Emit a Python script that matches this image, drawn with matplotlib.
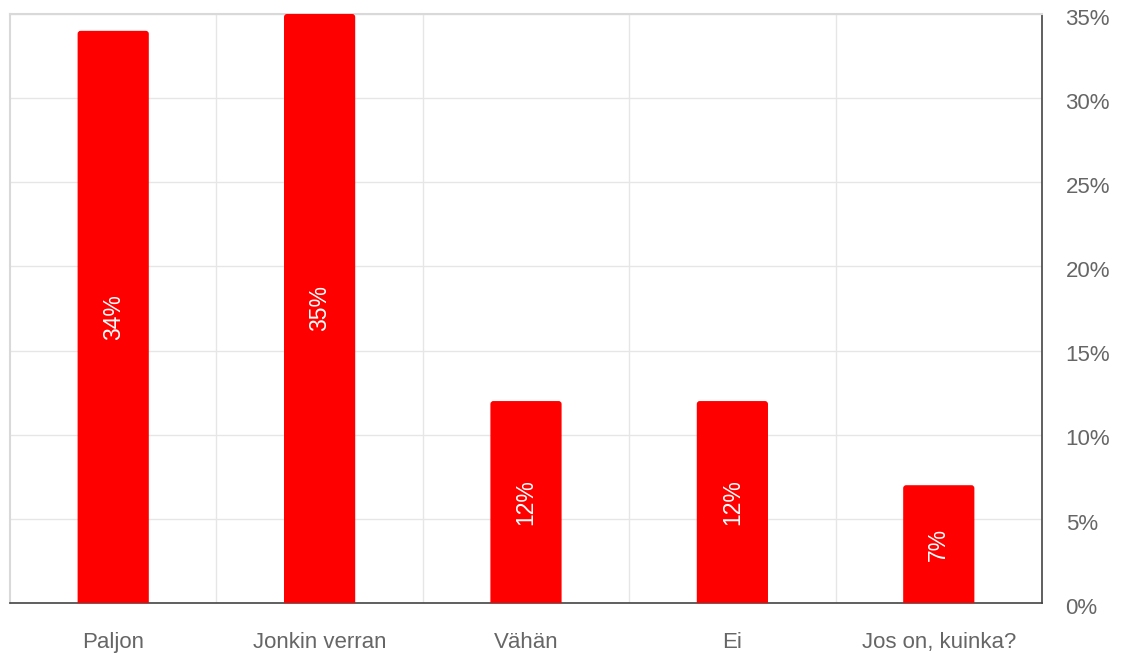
import matplotlib
matplotlib.use("Agg")
import matplotlib.pyplot as plt
from matplotlib.patches import FancyBboxPatch
from matplotlib.ticker import FuncFormatter, MultipleLocator
from matplotlib.transforms import ScaledTranslation

plt.rcParams["font.family"] = ["Liberation Sans", "DejaVu Sans"]

categories = ["Paljon", "Jonkin verran", "Vähän", "Ei", "Jos on, kuinka?"]
shares = [34, 35, 12, 12, 7]

BAR_RED = "#ff0000"
GRID = "#e6e6e6"
TEXT = "#666666"

fig = plt.figure(figsize=(11.25, 6.57), dpi=100)
ax = fig.add_axes([0.0089, 0.0822, 0.9173, 0.8965])

ax.set_xlim(-0.5, len(categories) - 0.5)
ax.set_ylim(0, 35)

x = list(range(len(categories)))
bars = ax.bar(x, shares, width=0.345, color=BAR_RED, zorder=3)

# swap the plain rectangles for ones with slightly rounded tops;
# the lower corners sit below the axis and get clipped away
px_x = ax.get_window_extent().width / 5.0
px_y = ax.get_window_extent().height / 35.0
r = 3.0 / px_x
for bar in bars:
    bar.set_visible(False)
    patch = FancyBboxPatch((bar.get_x(), -1), bar.get_width(), bar.get_height() + 1,
                           boxstyle=f"round,pad=0,rounding_size={r}",
                           mutation_aspect=px_x / px_y,
                           fc=BAR_RED, ec="none", zorder=3)
    ax.add_patch(patch)

for bar, v in zip(bars, shares):
    ax.text(bar.get_x() + bar.get_width() / 2, v / 2, f"{v}%",
            rotation=90, ha="center", va="center", color="white",
            fontsize=16.5, zorder=4)

# category dividers and horizontal grid
for b in range(1, len(categories)):
    ax.axvline(b - 0.5, color=GRID, lw=1, zorder=1)
ax.yaxis.set_major_locator(MultipleLocator(5))
ax.yaxis.grid(True, color=GRID, lw=1, zorder=1)
ax.set_axisbelow(True)

ax.yaxis.tick_right()
ax.yaxis.set_major_formatter(FuncFormatter(lambda v, _: f"{v:.0f}%"))
ax.set_xticks(x)
ax.set_xticklabels(categories)
ax.tick_params(axis="both", length=0, colors=TEXT, labelsize=16)
ax.tick_params(axis="x", pad=21)
ax.tick_params(axis="y", pad=17)

# percentage labels sit a little below their gridlines
shift = ScaledTranslation(0, -2 / 72, fig.dpi_scale_trans)
for tick in ax.yaxis.get_major_ticks():
    tick.label2.set_transform(tick.label2.get_transform() + shift)

for side in ("left", "top"):
    ax.spines[side].set_color("#d9d9d9")
    ax.spines[side].set_linewidth(1.5)
for side in ("right", "bottom"):
    ax.spines[side].set_color("#444444")
    ax.spines[side].set_linewidth(1.2)

fig.savefig("out.png", dpi=100)
